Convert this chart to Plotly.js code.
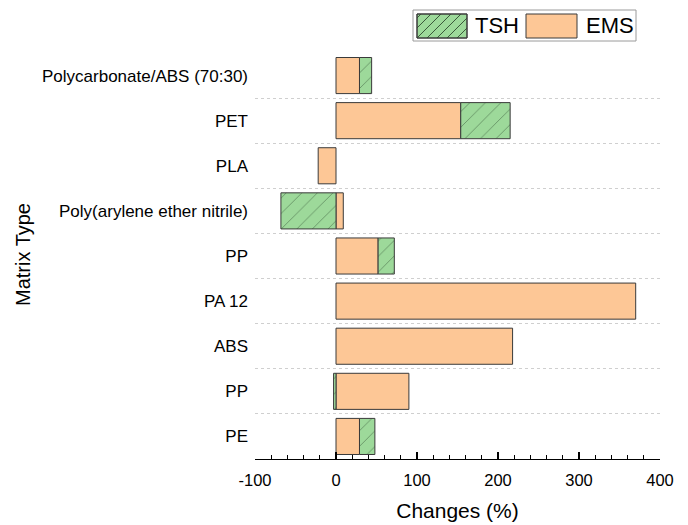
<!DOCTYPE html>
<html>
<head>
<meta charset="utf-8">
<script src="https://cdn.plot.ly/plotly-3.0.1.min.js"></script>
<style>html,body{margin:0;padding:0;background:#fff;}#chart{width:688px;height:525px;}</style>
</head>
<body>
<div id="chart"></div>
<script>
// Categories bottom -> top
var categories = ["PE", "PP", "ABS", "PA 12", "PP", "Poly(arylene ether nitrile)", "PLA", "PET", "Polycarbonate/ABS (70:30)"];
var emsValues = [29, 90, 218, 370, 52, 9, -22, 154, 29];
var tshValues = [19, -3, null, null, 20, -68, null, 61, 15];
var xTickVals = [-100, 0, 100, 200, 300, 400];
var seriesNames = ["EMS", "TSH"];

var positions = categories.map(function (c, i) { return i; });
var boundaries = [];
for (var i = 0; i <= categories.length; i++) boundaries.push(i - 0.5);
var innerBoundaries = boundaries.slice(1, -1);

var EMS_COLOR = "#fdc796";
var TSH_COLOR = "#9dd99a";
var HATCH = "#2f4a2f";
var FONT = "Liberation Sans, Arial, sans-serif";

var traces = [
  {
    type: "bar", orientation: "h", name: seriesNames[0],
    y: positions, x: emsValues, width: 0.8,
    marker: { color: EMS_COLOR, line: { color: "#3a3a3a", width: 1 } },
    showlegend: false
  },
  {
    type: "bar", orientation: "h", name: seriesNames[1],
    y: positions, x: tshValues, width: 0.8,
    marker: {
      color: TSH_COLOR,
      line: { color: "#3a3a3a", width: 1 },
      pattern: { shape: "/", fgcolor: HATCH, size: 11, solidity: 0.08, fillmode: "overlay" }
    },
    showlegend: false
  }
];

// plot area in pixels
var L = 255, R = 28, T = 53, B = 66, W = 688, H = 525;
var pw = W - L - R, ph = H - T - B;
function px(x) { return (x - L) / pw; }
function py(y) { return (H - B - y) / ph; }

// custom legend (wide swatches like the reference)
var shapes = [];
shapes.push({ type: "rect", xref: "paper", yref: "paper", x0: px(413), x1: px(636), y0: py(41), y1: py(10),
  line: { color: "#9a9a9a", width: 1 }, fillcolor: "#ffffff", layer: "above" });
var sw = { TSH: [417, 467], EMS: [526, 577] };
var sy0 = 14, sy1 = 38;
shapes.push({ type: "rect", xref: "paper", yref: "paper", x0: px(sw.TSH[0]), x1: px(sw.TSH[1]), y0: py(sy1), y1: py(sy0),
  line: { color: "#3a3a3a", width: 1 }, fillcolor: TSH_COLOR, layer: "above" });
// hatch for TSH swatch
var hp = "";
for (var k = -30; k < 60; k += 10) {
  var xa = sw.TSH[0] + k, ya = sy1;
  var xb = xa + (sy1 - sy0), yb = sy0;
  if (xa < sw.TSH[0]) { ya = sy1 - (sw.TSH[0] - xa); xa = sw.TSH[0]; }
  if (xb > sw.TSH[1]) { yb = sy0 + (xb - sw.TSH[1]); xb = sw.TSH[1]; }
  if (xa >= xb) continue;
  hp += "M" + px(xa) + "," + py(ya) + "L" + px(xb) + "," + py(yb);
}
shapes.push({ type: "path", xref: "paper", yref: "paper", path: hp, line: { color: HATCH, width: 0.9 }, layer: "above" });
shapes.push({ type: "rect", xref: "paper", yref: "paper", x0: px(sw.TSH[0]), x1: px(sw.TSH[1]), y0: py(sy1), y1: py(sy0),
  line: { color: "#3a3a3a", width: 1 }, fillcolor: "rgba(0,0,0,0)", layer: "above" });
shapes.push({ type: "rect", xref: "paper", yref: "paper", x0: px(sw.EMS[0]), x1: px(sw.EMS[1]), y0: py(sy1), y1: py(sy0),
  line: { color: "#3a3a3a", width: 1 }, fillcolor: EMS_COLOR, layer: "above" });

var annotations = [
  { xref: "paper", yref: "paper", x: px(473), y: py(26), xanchor: "left", yanchor: "middle", text: seriesNames[1], showarrow: false,
    font: { family: FONT, size: 22, color: "#000" } },
  { xref: "paper", yref: "paper", x: px(584), y: py(26), xanchor: "left", yanchor: "middle", text: seriesNames[0], showarrow: false,
    font: { family: FONT, size: 22, color: "#000" } },
  { xref: "paper", yref: "paper", x: px(23), y: py(255), xanchor: "center", yanchor: "middle", textangle: -90,
    text: "Matrix Type", showarrow: false, font: { family: FONT, size: 20, color: "#000" } }
];

var zeroPos = (0 - xTickVals[0]) / (xTickVals[xTickVals.length - 1] - xTickVals[0]);

var layout = {
  width: W, height: H,
  margin: { l: L, r: R, t: T, b: B, pad: 0 },
  paper_bgcolor: "#fff", plot_bgcolor: "#fff",
  barmode: "relative",
  showlegend: false,
  font: { family: FONT, color: "#000" },
  xaxis: {
    range: [xTickVals[0], xTickVals[xTickVals.length - 1]],
    tickvals: xTickVals, ticktext: xTickVals.map(String),
    ticks: "inside", ticklen: 7, tickwidth: 1.2, tickcolor: "#000",
    minor: { dtick: 20, ticks: "inside", ticklen: 4, tickwidth: 1, tickcolor: "#000", showgrid: false },
    showline: true, linecolor: "#000", linewidth: 1.3,
    showgrid: false, zeroline: false,
    ticklabelstandoff: 6,
    tickfont: { family: FONT, size: 16.5, color: "#000" },
    title: { text: "Changes (%)", font: { family: FONT, size: 21, color: "#000" }, standoff: 15 },
    automargin: false
  },
  yaxis: {
    range: [boundaries[0], boundaries[boundaries.length - 1]],
    tickvals: positions, ticktext: categories,
    ticks: "", showline: false, showgrid: false, zeroline: false,
    ticklabelstandoff: 6,
    tickfont: { family: FONT, size: 17, color: "#000" },
    minor: { tickvals: innerBoundaries, showgrid: true, gridcolor: "#cfcfcf", griddash: "dot", gridwidth: 1, ticks: "" },
    automargin: false
  },
  yaxis2: {
    overlaying: "y", anchor: "free", position: zeroPos, side: "left",
    range: [boundaries[0], boundaries[boundaries.length - 1]],
    tickvals: boundaries, ticks: "outside", ticklen: 4, tickwidth: 1.5, tickcolor: "#000",
    showticklabels: false, showline: true, linecolor: "#000", linewidth: 1.3,
    showgrid: false, zeroline: false
  },
  yaxis3: {
    overlaying: "y", anchor: "free", position: zeroPos, side: "left",
    range: [boundaries[0], boundaries[boundaries.length - 1]],
    tickvals: boundaries, ticks: "inside", ticklen: 4, tickwidth: 1.5, tickcolor: "#000",
    showticklabels: false, showline: false,
    showgrid: false, zeroline: false
  },
  shapes: shapes,
  annotations: annotations
};

Plotly.newPlot("chart", traces, layout, { displayModeBar: false, staticPlot: true });
</script>
</body>
</html>
